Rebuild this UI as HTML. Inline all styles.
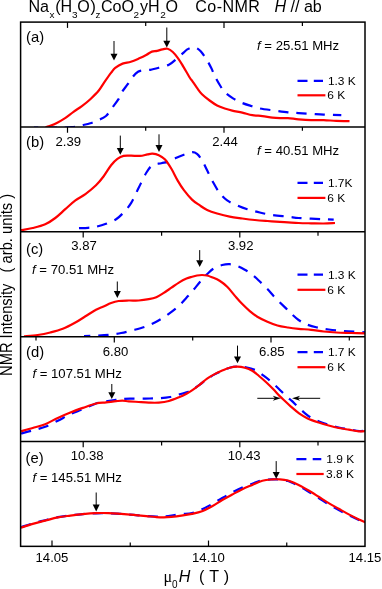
<!DOCTYPE html>
<html><head><meta charset="utf-8"><title>Co-NMR spectra</title>
<style>
html,body{margin:0;padding:0;background:#fff;}
body{width:382px;height:589px;overflow:hidden;font-family:"Liberation Sans",sans-serif;}
svg{display:block;will-change:transform;transform:translateZ(0);}
svg text{font-family:"Liberation Sans",sans-serif;fill:#000;}
</style></head><body>
<svg width="382" height="589" viewBox="0 0 382 589">
<rect width="382" height="589" fill="#fff"/>
<defs>
<clipPath id="c0"><rect x="20.60" y="22.10" width="344.40" height="104.85"/></clipPath>
<clipPath id="c1"><rect x="20.60" y="126.95" width="344.40" height="104.85"/></clipPath>
<clipPath id="c2"><rect x="20.60" y="231.80" width="344.40" height="104.85"/></clipPath>
<clipPath id="c3"><rect x="20.60" y="336.65" width="344.40" height="104.85"/></clipPath>
<clipPath id="c4"><rect x="20.60" y="441.50" width="344.40" height="104.85"/></clipPath>
</defs>
<g clip-path="url(#c0)" fill="none" stroke-width="2.2" stroke-linejoin="round">
<path d="M34.00 127.60 C38.33 127.60 53.67 127.67 60.00 127.60 C66.33 127.53 68.35 127.60 72.00 127.20 C75.65 126.80 78.85 125.85 81.90 125.20 C84.95 124.55 87.68 124.10 90.30 123.30 C92.92 122.50 94.98 121.62 97.60 120.40 C100.22 119.18 103.55 118.13 106.00 116.00 C108.45 113.87 110.22 110.40 112.30 107.60 C114.38 104.80 116.88 101.80 118.50 99.20 C120.12 96.60 120.47 94.50 122.00 92.00 C123.53 89.50 125.87 86.78 127.70 84.20 C129.53 81.62 131.28 78.57 133.00 76.50 C134.72 74.43 136.33 72.82 138.00 71.80 C139.67 70.78 140.95 70.73 143.00 70.40 C145.05 70.07 147.67 70.23 150.30 69.80 C152.93 69.37 155.70 68.63 158.80 67.80 C161.90 66.97 165.97 66.27 168.90 64.80 C171.83 63.33 173.90 61.08 176.40 59.00 C178.90 56.92 182.08 53.90 183.90 52.30 C185.72 50.70 186.12 50.18 187.30 49.40 C188.48 48.62 189.88 47.97 191.00 47.60 C192.12 47.23 192.92 47.03 194.00 47.20 C195.08 47.37 196.35 47.88 197.50 48.60 C198.65 49.32 199.45 49.80 200.90 51.50 C202.35 53.20 204.45 56.00 206.20 58.80 C207.95 61.60 210.00 65.50 211.40 68.30 C212.80 71.10 213.20 72.82 214.60 75.60 C216.00 78.38 218.07 82.20 219.80 85.00 C221.53 87.80 222.73 90.13 225.00 92.40 C227.27 94.67 230.60 96.87 233.40 98.60 C236.20 100.33 238.83 101.57 241.80 102.80 C244.77 104.03 248.17 105.05 251.20 106.00 C254.23 106.95 256.05 107.73 260.00 108.50 C263.95 109.27 270.23 109.97 274.90 110.60 C279.57 111.23 284.05 111.88 288.00 112.30 C291.95 112.72 294.75 112.85 298.60 113.10 C302.45 113.35 306.92 113.55 311.10 113.80 C315.28 114.05 318.67 114.38 323.70 114.60 C328.73 114.82 338.37 115.02 341.30 115.10" stroke="#0000ff" stroke-dasharray="10.3 8" stroke-dashoffset="6"/>
<path d="M45.50 127.20 C45.98 127.07 46.52 127.12 48.40 126.40 C50.28 125.68 54.02 124.28 56.80 122.90 C59.58 121.52 62.32 119.95 65.10 118.10 C67.88 116.25 70.70 113.80 73.50 111.80 C76.30 109.80 79.10 108.20 81.90 106.10 C84.70 104.00 87.52 101.75 90.30 99.20 C93.08 96.65 96.17 93.77 98.60 90.80 C101.03 87.83 102.80 84.43 104.90 81.40 C107.00 78.37 109.48 74.85 111.20 72.60 C112.92 70.35 113.30 69.40 115.20 67.90 C117.10 66.40 119.98 64.62 122.60 63.60 C125.22 62.58 128.12 62.68 130.90 61.80 C133.68 60.92 136.68 59.48 139.30 58.30 C141.92 57.12 144.50 55.82 146.60 54.70 C148.70 53.58 150.15 52.23 151.90 51.60 C153.65 50.97 155.35 51.28 157.10 50.90 C158.85 50.52 160.65 49.65 162.40 49.30 C164.15 48.95 165.87 48.35 167.60 48.80 C169.33 49.25 171.05 50.42 172.80 52.00 C174.55 53.58 176.35 55.87 178.10 58.30 C179.85 60.73 181.32 63.32 183.30 66.60 C185.28 69.88 188.55 75.67 190.00 78.00 C191.45 80.33 190.83 78.95 192.00 80.60 C193.17 82.25 195.33 85.63 197.00 87.90 C198.67 90.17 199.90 92.10 202.00 94.20 C204.10 96.30 207.08 98.62 209.60 100.50 C212.12 102.38 214.58 104.17 217.10 105.50 C219.62 106.83 222.18 107.65 224.70 108.50 C227.22 109.35 229.27 109.92 232.20 110.60 C235.13 111.28 238.95 111.85 242.30 112.60 C245.65 113.35 248.95 114.52 252.30 115.10 C255.65 115.68 259.05 115.68 262.40 116.10 C265.75 116.52 269.47 117.27 272.40 117.60 C275.33 117.93 277.40 118.02 280.00 118.10 C282.60 118.18 284.90 117.90 288.00 118.10 C291.10 118.30 294.75 118.97 298.60 119.30 C302.45 119.63 306.92 119.97 311.10 120.10 C315.28 120.23 319.50 119.97 323.70 120.10 C327.90 120.23 332.00 120.73 336.30 120.90 C340.60 121.07 347.30 121.07 349.50 121.10" stroke="#ff0000"/>
</g>
<g clip-path="url(#c1)" fill="none" stroke-width="2.2" stroke-linejoin="round">
<path d="M79.00 228.20 C80.50 228.13 85.17 228.03 88.00 227.80 C90.83 227.57 93.00 227.47 96.00 226.80 C99.00 226.13 102.65 225.07 106.00 223.80 C109.35 222.53 113.17 221.08 116.10 219.20 C119.03 217.32 121.08 215.22 123.60 212.50 C126.12 209.78 128.68 207.02 131.20 202.90 C133.72 198.78 136.18 192.82 138.70 187.80 C141.22 182.78 144.00 176.57 146.30 172.80 C148.60 169.03 150.00 166.80 152.50 165.20 C155.00 163.60 158.57 163.82 161.30 163.20 C164.03 162.58 166.38 162.42 168.90 161.50 C171.42 160.58 173.90 158.83 176.40 157.70 C178.90 156.57 181.30 155.62 183.90 154.70 C186.50 153.78 189.82 152.33 192.00 152.20 C194.18 152.07 195.33 152.57 197.00 153.90 C198.67 155.23 200.32 157.47 202.00 160.20 C203.68 162.93 205.20 166.53 207.10 170.30 C209.00 174.07 211.32 179.03 213.40 182.80 C215.48 186.57 217.30 189.97 219.60 192.90 C221.90 195.83 224.27 198.32 227.20 200.40 C230.13 202.48 233.85 203.93 237.20 205.40 C240.55 206.87 243.53 208.02 247.30 209.20 C251.07 210.38 255.62 211.53 259.80 212.50 C263.98 213.47 267.70 214.30 272.40 215.00 C277.10 215.70 283.63 216.20 288.00 216.70 C292.37 217.20 294.75 217.67 298.60 218.00 C302.45 218.33 306.92 218.50 311.10 218.70 C315.28 218.90 319.93 219.03 323.70 219.20 C327.47 219.37 332.03 219.62 333.70 219.70" stroke="#0000ff" stroke-dasharray="10.3 8" stroke-dashoffset="0"/>
<path d="M21.00 230.20 C22.95 229.83 28.67 228.98 32.70 228.00 C36.73 227.02 41.43 225.97 45.20 224.30 C48.97 222.63 51.95 220.52 55.30 218.00 C58.65 215.48 61.95 212.13 65.30 209.20 C68.65 206.27 72.05 202.92 75.40 200.40 C78.75 197.88 81.97 196.62 85.40 194.10 C88.83 191.58 92.98 188.23 96.00 185.30 C99.02 182.37 100.98 179.85 103.50 176.50 C106.02 173.15 108.78 168.13 111.10 165.20 C113.42 162.27 115.32 160.45 117.40 158.90 C119.48 157.35 121.30 156.43 123.60 155.90 C125.90 155.37 128.47 155.70 131.20 155.70 C133.93 155.70 137.28 156.12 140.00 155.90 C142.72 155.68 145.42 154.77 147.50 154.40 C149.58 154.03 150.62 153.57 152.50 153.70 C154.38 153.83 156.70 154.23 158.80 155.20 C160.90 156.17 163.00 157.23 165.10 159.50 C167.20 161.77 169.30 165.28 171.40 168.80 C173.50 172.32 175.62 177.03 177.70 180.60 C179.78 184.17 181.52 187.03 183.90 190.20 C186.28 193.37 189.40 197.10 192.00 199.60 C194.60 202.10 196.98 203.48 199.50 205.20 C202.02 206.92 204.17 208.52 207.10 209.90 C210.03 211.28 213.33 212.37 217.10 213.50 C220.87 214.63 225.50 215.87 229.70 216.70 C233.90 217.53 238.12 217.95 242.30 218.50 C246.48 219.05 250.62 219.58 254.80 220.00 C258.98 220.42 263.22 220.70 267.40 221.00 C271.58 221.30 276.47 221.58 279.90 221.80 C283.33 222.02 284.88 222.10 288.00 222.30 C291.12 222.50 294.75 222.83 298.60 223.00 C302.45 223.17 306.92 223.22 311.10 223.30 C315.28 223.38 319.72 223.55 323.70 223.50 C327.68 223.45 333.12 223.08 335.00 223.00" stroke="#ff0000"/>
</g>
<g clip-path="url(#c2)" fill="none" stroke-width="2.2" stroke-linejoin="round">
<path d="M84.00 336.00 C86.00 335.93 91.90 335.80 96.00 335.60 C100.10 335.40 104.42 335.23 108.60 334.80 C112.78 334.37 116.92 333.80 121.10 333.00 C125.28 332.20 129.50 331.12 133.70 330.00 C137.90 328.88 142.53 327.68 146.30 326.30 C150.07 324.92 152.95 323.50 156.30 321.70 C159.65 319.90 162.80 318.00 166.40 315.50 C170.00 313.00 174.30 309.93 177.90 306.70 C181.50 303.47 185.40 298.92 188.00 296.10 C190.60 293.28 191.33 292.35 193.50 289.80 C195.67 287.25 198.48 283.65 201.00 280.80 C203.52 277.95 206.33 274.83 208.60 272.70 C210.87 270.57 212.33 269.28 214.60 268.00 C216.87 266.72 219.68 265.63 222.20 265.00 C224.72 264.37 227.20 264.03 229.70 264.20 C232.20 264.37 234.68 265.07 237.20 266.00 C239.72 266.93 242.28 268.35 244.80 269.80 C247.32 271.25 249.80 272.75 252.30 274.70 C254.80 276.65 257.28 279.10 259.80 281.50 C262.32 283.90 264.88 286.45 267.40 289.10 C269.92 291.75 271.97 294.35 274.90 297.40 C277.83 300.45 282.32 304.73 285.00 307.40 C287.68 310.07 288.73 311.30 291.00 313.40 C293.27 315.50 296.08 318.20 298.60 320.00 C301.12 321.80 303.17 322.98 306.10 324.20 C309.03 325.42 312.43 326.42 316.20 327.30 C319.97 328.18 324.10 328.88 328.70 329.50 C333.30 330.12 337.58 330.53 343.80 331.00 C350.02 331.47 362.30 332.08 366.00 332.30" stroke="#0000ff" stroke-dasharray="10.3 8" stroke-dashoffset="4"/>
<path d="M24.00 336.40 C26.28 336.17 33.32 335.65 37.70 335.00 C42.08 334.35 46.12 333.53 50.30 332.50 C54.48 331.47 58.62 330.47 62.80 328.80 C66.98 327.13 71.63 324.58 75.40 322.50 C79.17 320.42 81.97 318.42 85.40 316.30 C88.83 314.18 92.98 311.43 96.00 309.80 C99.02 308.17 100.98 307.63 103.50 306.50 C106.02 305.37 108.58 303.92 111.10 303.00 C113.62 302.08 115.67 301.42 118.60 301.00 C121.53 300.58 125.35 300.58 128.70 300.50 C132.05 300.42 135.35 300.72 138.70 300.50 C142.05 300.28 145.87 299.75 148.80 299.20 C151.73 298.65 153.80 298.25 156.30 297.20 C158.80 296.15 161.28 294.48 163.80 292.90 C166.32 291.32 168.88 289.42 171.40 287.70 C173.92 285.98 176.38 284.12 178.90 282.60 C181.42 281.08 184.32 279.57 186.50 278.60 C188.68 277.63 190.25 277.32 192.00 276.80 C193.75 276.28 195.33 275.80 197.00 275.50 C198.67 275.20 200.32 275.00 202.00 275.00 C203.68 275.00 205.42 275.12 207.10 275.50 C208.78 275.88 210.02 276.42 212.10 277.30 C214.18 278.18 217.08 279.22 219.60 280.80 C222.12 282.38 224.68 284.33 227.20 286.80 C229.72 289.27 232.18 292.72 234.70 295.60 C237.22 298.48 239.78 301.52 242.30 304.10 C244.82 306.68 247.30 309.00 249.80 311.10 C252.30 313.20 254.37 314.93 257.30 316.70 C260.23 318.47 264.05 320.23 267.40 321.70 C270.75 323.17 273.97 324.53 277.40 325.50 C280.83 326.47 284.47 326.95 288.00 327.50 C291.53 328.05 294.75 328.42 298.60 328.80 C302.45 329.18 306.92 329.35 311.10 329.80 C315.28 330.25 319.50 331.05 323.70 331.50 C327.90 331.95 331.70 332.25 336.30 332.50 C340.90 332.75 346.35 332.83 351.30 333.00 C356.25 333.17 363.55 333.42 366.00 333.50" stroke="#ff0000"/>
</g>
<g clip-path="url(#c3)" fill="none" stroke-width="2.2" stroke-linejoin="round">
<path d="M21.00 433.50 C22.95 432.98 28.67 431.53 32.70 430.40 C36.73 429.27 41.02 428.32 45.20 426.70 C49.38 425.08 53.60 422.78 57.80 420.70 C62.00 418.62 66.22 416.12 70.40 414.20 C74.58 412.28 78.63 410.98 82.90 409.20 C87.17 407.42 92.15 404.78 96.00 403.50 C99.85 402.22 102.67 402.12 106.00 401.50 C109.33 400.88 113.27 400.22 116.00 399.80 C118.73 399.38 120.07 399.20 122.40 399.00 C124.73 398.80 127.07 398.67 130.00 398.60 C132.93 398.53 136.67 398.62 140.00 398.60 C143.33 398.58 146.67 398.57 150.00 398.50 C153.33 398.43 156.67 398.45 160.00 398.20 C163.33 397.95 167.00 397.57 170.00 397.00 C173.00 396.43 175.25 395.57 178.00 394.80 C180.75 394.03 184.17 393.22 186.50 392.40 C188.83 391.58 189.83 391.15 192.00 389.90 C194.17 388.65 196.98 386.70 199.50 384.90 C202.02 383.10 204.58 380.85 207.10 379.10 C209.62 377.35 212.08 375.77 214.60 374.40 C217.12 373.03 219.68 372.02 222.20 370.90 C224.72 369.78 227.20 368.43 229.70 367.70 C232.20 366.97 234.51 366.55 237.20 366.50 C239.89 366.45 242.71 366.75 245.86 367.40 C249.01 368.05 253.14 369.02 256.10 370.40 C259.06 371.78 261.08 373.82 263.60 375.70 C266.12 377.58 268.68 379.53 271.20 381.70 C273.72 383.87 276.18 386.27 278.70 388.70 C281.22 391.13 284.12 394.27 286.30 396.30 C288.48 398.33 289.97 399.23 291.80 400.90 C293.63 402.57 295.13 404.27 297.30 406.30 C299.47 408.33 302.41 411.13 304.82 413.10 C307.23 415.07 309.05 416.58 311.76 418.10 C314.48 419.62 318.01 421.02 321.11 422.20 C324.21 423.38 327.24 424.28 330.37 425.20 C333.50 426.12 336.68 427.00 339.88 427.70 C343.08 428.40 346.31 428.85 349.55 429.40 C352.80 429.95 356.55 430.78 359.33 431.00 C362.10 431.22 365.05 430.75 366.20 430.70" stroke="#0000ff" stroke-dasharray="10.3 8" stroke-dashoffset="0"/>
<path d="M21.00 431.30 C22.95 430.75 28.67 429.18 32.70 428.00 C36.73 426.82 41.02 425.88 45.20 424.20 C49.38 422.52 53.60 419.85 57.80 417.90 C62.00 415.95 66.22 414.17 70.40 412.50 C74.58 410.83 78.63 409.40 82.90 407.90 C87.17 406.40 92.13 404.42 96.00 403.50 C99.87 402.58 102.75 402.78 106.10 402.40 C109.45 402.02 113.38 401.48 116.10 401.20 C118.82 400.92 120.30 400.68 122.40 400.70 C124.50 400.72 125.98 401.08 128.70 401.30 C131.42 401.52 135.35 401.78 138.70 402.00 C142.05 402.22 145.45 402.50 148.80 402.60 C152.15 402.70 155.45 402.87 158.80 402.60 C162.15 402.33 165.55 401.88 168.90 401.00 C172.25 400.12 175.97 398.52 178.90 397.30 C181.83 396.08 184.32 394.85 186.50 393.70 C188.68 392.55 189.83 391.87 192.00 390.40 C194.17 388.93 196.98 386.87 199.50 384.90 C202.02 382.93 204.58 380.40 207.10 378.60 C209.62 376.80 212.08 375.43 214.60 374.10 C217.12 372.77 219.68 371.67 222.20 370.60 C224.72 369.53 227.20 368.35 229.70 367.70 C232.20 367.05 234.68 366.70 237.20 366.70 C239.72 366.70 242.29 367.03 244.80 367.70 C247.31 368.37 249.90 369.32 252.27 370.70 C254.64 372.08 256.73 374.12 259.00 376.00 C261.27 377.88 263.55 379.83 265.90 382.00 C268.25 384.17 270.72 386.57 273.10 389.00 C275.48 391.43 278.18 394.57 280.20 396.60 C282.22 398.63 283.42 399.53 285.20 401.20 C286.98 402.87 288.58 404.57 290.90 406.60 C293.22 408.63 296.32 411.43 299.10 413.40 C301.88 415.37 304.33 416.88 307.60 418.40 C310.87 419.92 315.18 421.32 318.70 422.50 C322.22 423.68 325.35 424.58 328.70 425.50 C332.05 426.42 335.45 427.30 338.80 428.00 C342.15 428.70 345.45 429.15 348.80 429.70 C352.15 430.25 356.03 431.08 358.90 431.30 C361.77 431.52 364.82 431.05 366.00 431.00" stroke="#ff0000"/>
</g>
<g clip-path="url(#c4)" fill="none" stroke-width="2.2" stroke-linejoin="round">
<path d="M21.00 527.20 C22.95 526.57 28.67 524.57 32.70 523.40 C36.73 522.23 41.02 521.23 45.20 520.20 C49.38 519.17 53.60 518.00 57.80 517.20 C62.00 516.40 66.22 515.92 70.40 515.40 C74.58 514.88 78.63 514.45 82.90 514.10 C87.17 513.75 91.72 513.43 96.00 513.30 C100.28 513.17 104.42 513.20 108.60 513.30 C112.78 513.40 116.92 513.63 121.10 513.90 C125.28 514.17 129.50 514.55 133.70 514.90 C137.90 515.25 142.53 515.72 146.30 516.00 C150.07 516.28 153.38 516.53 156.30 516.60 C159.22 516.67 161.28 516.57 163.80 516.40 C166.32 516.23 168.47 515.98 171.40 515.60 C174.33 515.22 177.97 514.53 181.40 514.10 C184.83 513.67 188.57 513.80 192.00 513.00 C195.43 512.20 198.65 510.78 202.00 509.30 C205.35 507.82 208.73 505.98 212.10 504.10 C215.47 502.22 218.85 499.93 222.20 498.00 C225.55 496.07 228.85 494.25 232.20 492.50 C235.55 490.75 238.95 488.97 242.30 487.50 C245.65 486.03 248.95 484.92 252.30 483.70 C255.65 482.48 259.05 480.92 262.40 480.20 C265.75 479.48 269.47 479.50 272.40 479.40 C275.33 479.30 277.40 479.33 280.00 479.60 C282.60 479.87 285.75 480.38 288.00 481.00 C290.25 481.62 291.32 482.27 293.50 483.30 C295.68 484.33 298.58 485.80 301.10 487.20 C303.62 488.60 305.67 489.90 308.60 491.70 C311.53 493.50 315.35 495.90 318.70 498.00 C322.05 500.10 325.35 502.30 328.70 504.30 C332.05 506.30 335.45 508.18 338.80 510.00 C342.15 511.82 345.45 513.53 348.80 515.20 C352.15 516.87 356.03 518.70 358.90 520.00 C361.77 521.30 364.82 522.50 366.00 523.00" stroke="#0000ff" stroke-dasharray="10.3 8" stroke-dashoffset="0"/>
<path d="M21.00 527.70 C22.95 527.07 28.67 525.08 32.70 523.90 C36.73 522.72 41.02 521.68 45.20 520.60 C49.38 519.52 53.60 518.23 57.80 517.40 C62.00 516.57 66.22 516.15 70.40 515.60 C74.58 515.05 78.63 514.52 82.90 514.10 C87.17 513.68 91.72 513.27 96.00 513.10 C100.28 512.93 104.42 512.97 108.60 513.10 C112.78 513.23 116.92 513.60 121.10 513.90 C125.28 514.20 129.50 514.53 133.70 514.90 C137.90 515.27 142.53 515.73 146.30 516.10 C150.07 516.47 153.38 516.88 156.30 517.10 C159.22 517.32 161.28 517.43 163.80 517.40 C166.32 517.37 168.47 517.18 171.40 516.90 C174.33 516.62 177.97 516.20 181.40 515.70 C184.83 515.20 188.57 514.63 192.00 513.90 C195.43 513.17 198.65 512.57 202.00 511.30 C205.35 510.03 208.73 508.18 212.10 506.30 C215.47 504.42 218.85 501.97 222.20 500.00 C225.55 498.03 228.85 496.30 232.20 494.50 C235.55 492.70 238.95 490.80 242.30 489.20 C245.65 487.60 248.95 486.32 252.30 484.90 C255.65 483.48 259.05 481.62 262.40 480.70 C265.75 479.78 269.47 479.62 272.40 479.40 C275.33 479.18 277.40 479.22 280.00 479.40 C282.60 479.58 285.75 479.98 288.00 480.50 C290.25 481.02 291.32 481.55 293.50 482.50 C295.68 483.45 298.58 484.87 301.10 486.20 C303.62 487.53 305.67 488.73 308.60 490.50 C311.53 492.27 315.35 494.70 318.70 496.80 C322.05 498.90 325.35 501.10 328.70 503.10 C332.05 505.10 335.45 506.92 338.80 508.80 C342.15 510.68 345.45 512.63 348.80 514.40 C352.15 516.17 356.03 518.05 358.90 519.40 C361.77 520.75 364.82 521.98 366.00 522.50" stroke="#ff0000"/>
</g>
<g stroke="#000" stroke-width="1.5" fill="none" shape-rendering="auto">
<rect x="20.60" y="22.10" width="344.40" height="524.25"/>
<line x1="20.60" y1="126.95" x2="365.00" y2="126.95"/>
<line x1="20.60" y1="231.80" x2="365.00" y2="231.80"/>
<line x1="20.60" y1="336.65" x2="365.00" y2="336.65"/>
<line x1="20.60" y1="441.50" x2="365.00" y2="441.50"/>
</g>
<g stroke="#000" stroke-width="1.2">
<line x1="67.50" y1="22.10" x2="67.50" y2="27.90"/>
<line x1="145.70" y1="22.10" x2="145.70" y2="26.00"/>
<line x1="224.00" y1="22.10" x2="224.00" y2="27.90"/>
<line x1="302.40" y1="22.10" x2="302.40" y2="26.00"/>
<line x1="67.50" y1="126.95" x2="67.50" y2="132.75"/>
<line x1="145.70" y1="126.95" x2="145.70" y2="130.85"/>
<line x1="224.00" y1="126.95" x2="224.00" y2="132.75"/>
<line x1="302.40" y1="126.95" x2="302.40" y2="130.85"/>
<line x1="83.20" y1="231.80" x2="83.20" y2="237.60"/>
<line x1="161.60" y1="231.80" x2="161.60" y2="235.70"/>
<line x1="239.80" y1="231.80" x2="239.80" y2="237.60"/>
<line x1="318.00" y1="231.80" x2="318.00" y2="235.70"/>
<line x1="36.00" y1="336.65" x2="36.00" y2="340.55"/>
<line x1="114.30" y1="336.65" x2="114.30" y2="342.45"/>
<line x1="192.70" y1="336.65" x2="192.70" y2="340.55"/>
<line x1="271.00" y1="336.65" x2="271.00" y2="342.45"/>
<line x1="349.30" y1="336.65" x2="349.30" y2="340.55"/>
<line x1="83.20" y1="441.50" x2="83.20" y2="447.30"/>
<line x1="161.60" y1="441.50" x2="161.60" y2="445.40"/>
<line x1="239.80" y1="441.50" x2="239.80" y2="447.30"/>
<line x1="318.00" y1="441.50" x2="318.00" y2="445.40"/>
<line x1="52.00" y1="546.35" x2="52.00" y2="540.55"/>
<line x1="130.25" y1="546.35" x2="130.25" y2="542.45"/>
<line x1="208.50" y1="546.35" x2="208.50" y2="540.55"/>
<line x1="286.75" y1="546.35" x2="286.75" y2="542.45"/>
</g>
<line x1="114.00" y1="41.00" x2="114.00" y2="54.20" stroke="#000" stroke-width="1"/><path d="M110.50 53.70 L117.50 53.70 L114.00 60.50 Z" fill="#000"/>
<line x1="166.80" y1="27.50" x2="166.80" y2="41.30" stroke="#000" stroke-width="1"/><path d="M163.30 40.80 L170.30 40.80 L166.80 47.60 Z" fill="#000"/>
<line x1="120.30" y1="135.60" x2="120.30" y2="148.40" stroke="#000" stroke-width="1"/><path d="M116.80 147.90 L123.80 147.90 L120.30 154.70 Z" fill="#000"/>
<line x1="159.00" y1="134.30" x2="159.00" y2="145.60" stroke="#000" stroke-width="1"/><path d="M155.50 145.10 L162.50 145.10 L159.00 151.90 Z" fill="#000"/>
<line x1="117.30" y1="281.50" x2="117.30" y2="291.60" stroke="#000" stroke-width="1"/><path d="M113.80 291.10 L120.80 291.10 L117.30 297.90 Z" fill="#000"/>
<line x1="199.70" y1="250.10" x2="199.70" y2="260.70" stroke="#000" stroke-width="1"/><path d="M196.20 260.20 L203.20 260.20 L199.70 267.00 Z" fill="#000"/>
<line x1="111.80" y1="384.00" x2="111.80" y2="392.80" stroke="#000" stroke-width="1"/><path d="M108.30 392.30 L115.30 392.30 L111.80 399.10 Z" fill="#000"/>
<line x1="237.50" y1="345.60" x2="237.50" y2="356.90" stroke="#000" stroke-width="1"/><path d="M234.00 356.40 L241.00 356.40 L237.50 363.20 Z" fill="#000"/>
<line x1="96.20" y1="492.50" x2="96.20" y2="505.10" stroke="#000" stroke-width="1"/><path d="M92.70 504.60 L99.70 504.60 L96.20 511.40 Z" fill="#000"/>
<line x1="276.20" y1="461.10" x2="276.20" y2="472.40" stroke="#000" stroke-width="1"/><path d="M272.70 471.90 L279.70 471.90 L276.20 478.70 Z" fill="#000"/>
<line x1="257.30" y1="398.30" x2="276.00" y2="398.30" stroke="#000" stroke-width="1"/><path d="M280.80 398.30 L272.80 395.80 L275.04 398.30 L272.80 400.80 Z" fill="#000"/>
<line x1="320.20" y1="398.30" x2="296.90" y2="398.30" stroke="#000" stroke-width="1"/><path d="M292.10 398.30 L300.10 395.80 L297.86 398.30 L300.10 400.80 Z" fill="#000"/>
<line x1="297.50" y1="80.80" x2="323.00" y2="80.80" stroke="#0000ff" stroke-width="2.2" stroke-dasharray="10 6.3"/>
<line x1="297.50" y1="95.30" x2="325.40" y2="95.30" stroke="#ff0000" stroke-width="2.2"/>
<text transform="translate(327.90 85.10) scale(1 0.97)" font-size="11.95" text-anchor="start" >1.3 K</text>
<text transform="translate(327.20 99.30) scale(1 0.97)" font-size="11.95" text-anchor="start" >6 K</text>
<line x1="297.50" y1="182.80" x2="323.00" y2="182.80" stroke="#0000ff" stroke-width="2.2" stroke-dasharray="10 6.3"/>
<line x1="297.50" y1="197.90" x2="325.40" y2="197.90" stroke="#ff0000" stroke-width="2.2"/>
<text transform="translate(327.90 187.10) scale(1 0.97)" font-size="11.95" text-anchor="start" >1.7K</text>
<text transform="translate(327.20 201.90) scale(1 0.97)" font-size="11.95" text-anchor="start" >6 K</text>
<line x1="297.50" y1="274.70" x2="323.00" y2="274.70" stroke="#0000ff" stroke-width="2.2" stroke-dasharray="10 6.3"/>
<line x1="297.50" y1="289.80" x2="325.40" y2="289.80" stroke="#ff0000" stroke-width="2.2"/>
<text transform="translate(327.90 279.00) scale(1 0.97)" font-size="11.95" text-anchor="start" >1.3 K</text>
<text transform="translate(327.20 293.80) scale(1 0.97)" font-size="11.95" text-anchor="start" >6 K</text>
<line x1="297.50" y1="352.10" x2="323.00" y2="352.10" stroke="#0000ff" stroke-width="2.2" stroke-dasharray="10 6.3"/>
<line x1="297.50" y1="367.20" x2="325.40" y2="367.20" stroke="#ff0000" stroke-width="2.2"/>
<text transform="translate(327.90 356.40) scale(1 0.97)" font-size="11.95" text-anchor="start" >1.7 K</text>
<text transform="translate(327.20 371.20) scale(1 0.97)" font-size="11.95" text-anchor="start" >6 K</text>
<line x1="296.40" y1="459.10" x2="321.30" y2="459.10" stroke="#0000ff" stroke-width="2.2" stroke-dasharray="10 6.3"/>
<line x1="296.40" y1="474.00" x2="323.70" y2="474.00" stroke="#ff0000" stroke-width="2.2"/>
<text transform="translate(326.30 463.40) scale(1 0.97)" font-size="11.95" text-anchor="start" >1.9 K</text>
<text transform="translate(326.00 478.00) scale(1 0.97)" font-size="11.95" text-anchor="start" >3.8 K</text>
<text transform="translate(28.40 11.90) scale(1 1.05)" font-size="16.1" text-anchor="start" >Na</text>
<text transform="translate(49.60 18.30) scale(1 0.955)" font-size="10.0" text-anchor="start" >x</text>
<text transform="translate(55.20 11.90) scale(1 1.05)" font-size="16.1" text-anchor="start" >(H</text>
<text transform="translate(72.00 18.30) scale(1 0.955)" font-size="10.0" text-anchor="start" >3</text>
<text transform="translate(77.20 11.90) scale(1 1.05)" font-size="16.1" text-anchor="start" >O</text>
<text transform="translate(90.40 11.90) scale(1 1.05)" font-size="16.1" text-anchor="start" >)</text>
<text transform="translate(95.60 18.30) scale(1 0.955)" font-size="10.0" text-anchor="start" >z</text>
<text transform="translate(100.90 11.90) scale(1 1.05)" font-size="16.1" text-anchor="start" >CoO</text>
<text transform="translate(133.50 18.30) scale(1 0.955)" font-size="10.0" text-anchor="start" >2</text>
<text transform="translate(139.90 11.90) scale(1 1.05)" font-size="16.1" text-anchor="start" >yH</text>
<text transform="translate(160.20 18.30) scale(1 0.955)" font-size="10.0" text-anchor="start" >2</text>
<text transform="translate(165.60 11.90) scale(1 1.05)" font-size="16.1" text-anchor="start" >O</text>
<text transform="translate(195.30 11.90) scale(1 1.05)" font-size="16.1" text-anchor="start" letter-spacing="0.4">Co-NMR</text>
<text transform="translate(274.40 11.90) scale(1 1.05)" font-size="16.1" text-anchor="start" ><tspan font-style="italic">H</tspan> // ab</text>
<text transform="translate(26.00 41.60) scale(1 0.98)" font-size="14.8" text-anchor="start" >(a)</text>
<text transform="translate(26.00 146.50) scale(1 0.98)" font-size="14.8" text-anchor="start" >(b)</text>
<text transform="translate(26.00 253.60) scale(1 0.98)" font-size="14.8" text-anchor="start" >(c)</text>
<text transform="translate(26.00 356.60) scale(1 0.98)" font-size="14.8" text-anchor="start" >(d)</text>
<text transform="translate(25.60 462.90) scale(1 0.98)" font-size="14.8" text-anchor="start" >(e)</text>
<text transform="translate(257.00 50.10) scale(1 0.955)" font-size="13.15" text-anchor="start" ><tspan font-style="italic">f</tspan> = 25.51 MHz</text>
<text transform="translate(257.00 154.80) scale(1 0.955)" font-size="13.15" text-anchor="start" ><tspan font-style="italic">f</tspan> = 40.51 MHz</text>
<text transform="translate(32.00 274.20) scale(1 0.955)" font-size="13.15" text-anchor="start" ><tspan font-style="italic">f</tspan> = 70.51 MHz</text>
<text transform="translate(32.40 377.80) scale(1 0.955)" font-size="13.15" text-anchor="start" ><tspan font-style="italic">f</tspan> = 107.51 MHz</text>
<text transform="translate(32.40 482.00) scale(1 0.955)" font-size="13.15" text-anchor="start" ><tspan font-style="italic">f</tspan> = 145.51 MHz</text>
<text transform="translate(68.30 146.00) scale(1 0.955)" font-size="13.15" text-anchor="middle" >2.39</text>
<text transform="translate(225.10 146.00) scale(1 0.955)" font-size="13.15" text-anchor="middle" >2.44</text>
<text transform="translate(84.00 250.30) scale(1 0.955)" font-size="13.15" text-anchor="middle" >3.87</text>
<text transform="translate(240.70 250.30) scale(1 0.955)" font-size="13.15" text-anchor="middle" >3.92</text>
<text transform="translate(115.60 355.60) scale(1 0.955)" font-size="13.15" text-anchor="middle" >6.80</text>
<text transform="translate(271.80 355.60) scale(1 0.955)" font-size="13.15" text-anchor="middle" >6.85</text>
<text transform="translate(87.20 459.60) scale(1 0.955)" font-size="13.15" text-anchor="middle" >10.38</text>
<text transform="translate(244.10 459.60) scale(1 0.955)" font-size="13.15" text-anchor="middle" >10.43</text>
<text transform="translate(52.00 562.30) scale(1 0.955)" font-size="13.15" text-anchor="middle" >14.05</text>
<text transform="translate(208.50 562.30) scale(1 0.955)" font-size="13.15" text-anchor="middle" >14.10</text>
<text transform="translate(365.00 562.30) scale(1 0.955)" font-size="13.15" text-anchor="middle" >14.15</text>
<text transform="translate(163.60 581.90) scale(1 1.05)" font-size="16.1" text-anchor="start" ><tspan font-family="Liberation Serif">μ</tspan></text>
<text transform="translate(172.00 588.20) scale(1 1.1)" font-size="10.0" text-anchor="start" >0</text>
<text transform="translate(178.70 581.90) scale(1 1.05)" font-size="16.1" text-anchor="start" ><tspan font-style="italic">H</tspan></text>
<text transform="translate(199.00 581.90) scale(1 1.05)" font-size="16.1" text-anchor="start" letter-spacing="0.3">( T )</text>
<text transform="translate(12.40 376.00) rotate(-90) scale(0.915 1.04)" font-size="16.1">NMR Intensity</text>
<text transform="translate(12.40 272.40) rotate(-90) scale(0.915 1.04)" font-size="16.1">( arb. units )</text>
</svg>
</body></html>
